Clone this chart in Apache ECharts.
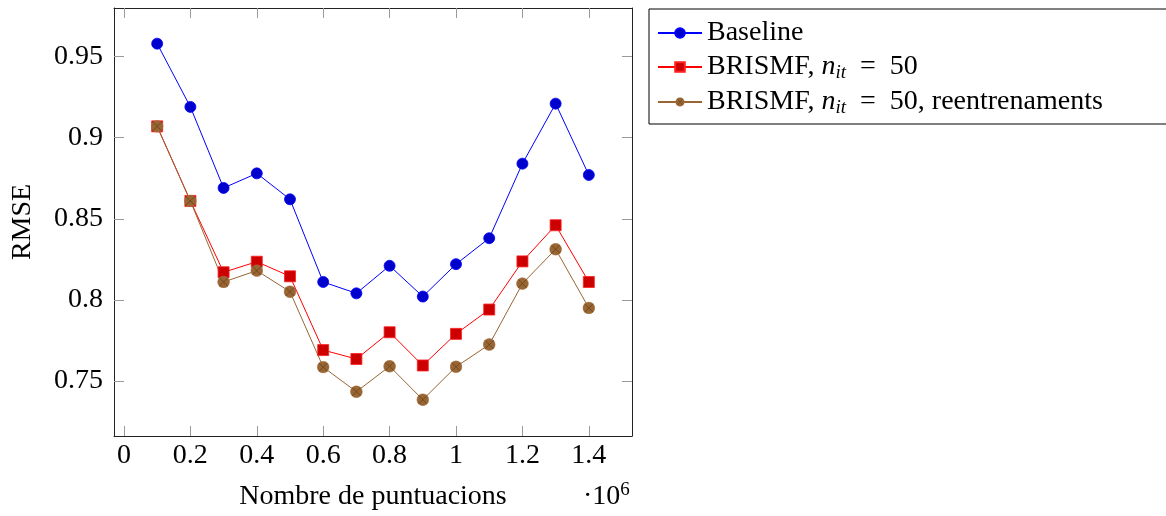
<!DOCTYPE html>
<html>
<head>
<meta charset="utf-8">
<script src="https://cdn.jsdelivr.net/npm/echarts@6/dist/echarts.min.js"></script>
<style>
  html, body { margin: 0; padding: 0; background: #fff; }
  #chart { width: 1166px; height: 516px; }
</style>
</head>
<body>
<div id="chart"></div>
<script>
// Number of ratings, in millions (axis carries a ·10^6 factor)
const ratingsMillions = [0.1, 0.2, 0.3, 0.4, 0.5, 0.6, 0.7, 0.8, 0.9, 1.0, 1.1, 1.2, 1.3, 1.4];

// RMSE per method
const baselineRmse = [0.958, 0.919, 0.869, 0.878, 0.862, 0.811, 0.804, 0.821, 0.802, 0.822, 0.838, 0.884, 0.921, 0.877];
const brismfRmse   = [0.907, 0.861, 0.817, 0.8235, 0.8145, 0.769, 0.7635, 0.780, 0.7595, 0.779, 0.794, 0.8237, 0.846, 0.811];
const retrainRmse  = [0.907, 0.861, 0.811, 0.818, 0.805, 0.7585, 0.7433, 0.759, 0.7384, 0.7587, 0.7724, 0.810, 0.8312, 0.795];

// Tick positions
const xTickValues = [0, 0.2, 0.4, 0.6, 0.8, 1.0, 1.2, 1.4];
const yTickValues = [0.75, 0.8, 0.85, 0.9, 0.95];

const FONT = 'Liberation Serif';

// Circle with a cross, filled (otimes*)
const otimesSymbol = 'image://data:image/svg+xml;utf8,' + encodeURIComponent(
  '<svg xmlns="http://www.w3.org/2000/svg" width="24" height="24" viewBox="0 0 24 24">' +
  '<circle cx="12" cy="12" r="11" fill="#996633" stroke="#a87445" stroke-width="1"/>' +
  '<path d="M4.3 4.3L19.7 19.7M19.7 4.3L4.3 19.7" stroke="#65421f" stroke-width="1.5"/>' +
  '</svg>');

const toPairs = (ys) => ratingsMillions.map((x, i) => [x, ys[i]]);
const fmt = (v) => String(+v.toFixed(2));

const frame = { show: true, onZero: false, lineStyle: { color: '#222', width: 1 } };
const ticks = (vals) => ({ show: true, inside: true, length: 10, customValues: vals,
  lineStyle: { color: '#9a9a9a', width: 1 } });

const chart = echarts.init(document.getElementById('chart'), null, { renderer: 'canvas' });

chart.setOption({
  animation: false,
  backgroundColor: '#fff',
  grid: { left: 114, top: 8, width: 518, height: 430, containLabel: false },
  xAxis: [
    {
      type: 'value', position: 'bottom', min: -0.03, max: 1.53,
      axisLine: frame, axisTick: ticks(xTickValues), splitLine: { show: false },
      axisLabel: { customValues: xTickValues, formatter: fmt, margin: 6,
        fontFamily: FONT, fontSize: 28, color: '#000' },
      name: 'Nombre de puntuacions', nameLocation: 'middle', nameGap: 47,
      nameTextStyle: { fontFamily: FONT, fontSize: 28, color: '#000' }
    },
    {
      type: 'value', position: 'top', min: -0.03, max: 1.53,
      axisLine: frame, axisTick: ticks(xTickValues), splitLine: { show: false },
      axisLabel: { show: false }
    }
  ],
  yAxis: [
    {
      type: 'value', position: 'left', min: 0.716, max: 0.98,
      axisLine: frame, axisTick: ticks(yTickValues), splitLine: { show: false },
      axisLabel: { customValues: yTickValues, formatter: fmt, margin: 11,
        fontFamily: FONT, fontSize: 28, color: '#000' },
      name: 'RMSE', nameLocation: 'middle', nameGap: 77, nameRotate: 90,
      nameTextStyle: { fontFamily: FONT, fontSize: 28, color: '#000' }
    },
    {
      type: 'value', position: 'right', min: 0.716, max: 0.98,
      axisLine: frame, axisTick: ticks(yTickValues), splitLine: { show: false },
      axisLabel: { show: false }
    }
  ],
  legend: {
    orient: 'vertical', left: 649, top: 9,
    padding: [10, 130, 7, 8], itemGap: 6, itemWidth: 44, itemHeight: 12,
    borderColor: '#000', borderWidth: 1, backgroundColor: '#fff',
    data: ['Baseline', 'BRISMF', 'BRISMF reentrenaments'],
    formatter: (name) => {
      if (name === 'Baseline') return 'Baseline';
      if (name === 'BRISMF') return 'BRISMF, {n|n}{sub|it}{eq|  =  50}';
      return 'BRISMF, {n|n}{sub|it}{eq|  =  50}, reentrenaments';
    },
    textStyle: {
      fontFamily: FONT, fontSize: 28, color: '#000', lineHeight: 28,
      rich: {
        n: { fontFamily: FONT, fontSize: 28, fontStyle: 'italic', color: '#000' },
        sub: { fontFamily: FONT, fontSize: 19, fontStyle: 'italic', color: '#000', padding: [11, 0, 0, 0] },
        eq: { fontFamily: FONT, fontSize: 28, color: '#000' }
      }
    }
  },
  graphic: [
    {
      type: 'text', left: 583, top: 481,
      style: {
        text: '{a|·10}{b|6}',
        rich: {
          a: { fontFamily: FONT, fontSize: 28, fill: '#000' },
          b: { fontFamily: FONT, fontSize: 19, fill: '#000', padding: [0, 0, 12, 0] }
        }
      }
    }
  ],
  series: [
    {
      name: 'Baseline', type: 'line', data: toPairs(baselineRmse),
      symbol: 'circle', symbolSize: 11,
      lineStyle: { color: '#0000ff', width: 1 },
      itemStyle: { color: '#0000cc', borderColor: '#0000ff', borderWidth: 0.8 }
    },
    {
      name: 'BRISMF', type: 'line', data: toPairs(brismfRmse),
      symbol: 'rect', symbolSize: 11,
      lineStyle: { color: '#ff0000', width: 1 },
      itemStyle: { color: '#cc0000', borderColor: '#ff2020', borderWidth: 0.8 }
    },
    {
      name: 'BRISMF reentrenaments', type: 'line', data: toPairs(retrainRmse),
      symbol: otimesSymbol, symbolSize: 13,
      lineStyle: { color: '#996633', width: 1 },
      itemStyle: { color: '#996633' }
    }
  ]
});
</script>
</body>
</html>
